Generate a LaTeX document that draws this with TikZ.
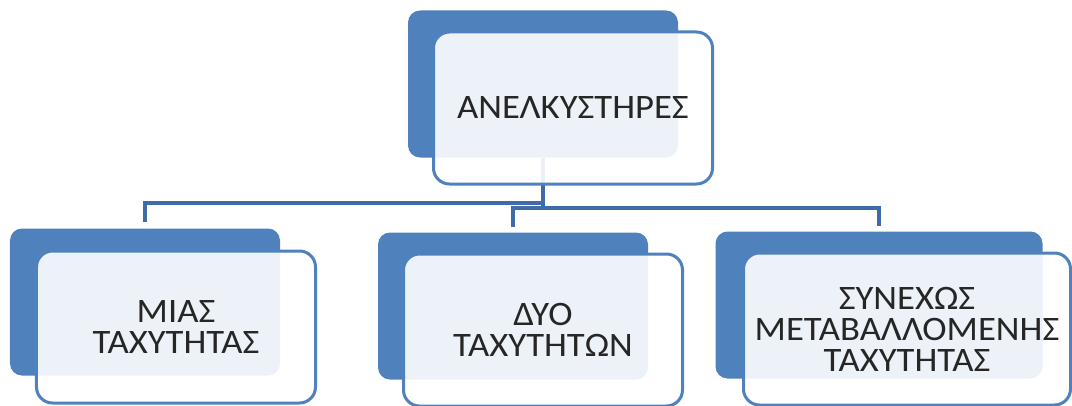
\documentclass[tikz,border=0pt]{standalone}
\usepackage{fontspec}
\setmainfont{Carlito}[FakeStretch=1.07]
\usepackage{tikz}
\usetikzlibrary{positioning}
\definecolor{boxblue}{HTML}{4F81BD}
\definecolor{linkblue}{HTML}{3E6CA8}
\tikzset{
  back/.style = {
    rectangle,
    rounded corners = 2.4mm,
    fill = boxblue,
    inner sep = 0pt,
    minimum width = 54mm,
    minimum height = 29.4mm
  }
  ,
  wide/.style = {
    minimum width = 65.4mm
  }
  , % the light boxes with the texts
  front/.style = {
    rectangle,
    rounded corners = 3.2mm,
    draw = boxblue,
    line width = 0.6mm,
    fill = white,
    fill opacity = 0.9,
    text opacity = 1,
    text = black!85,
    align = center,
    inner sep = 0pt,
    font = \fontsize{19.5}{17.6}\selectfont,
    minimum width = 55.8mm,
    minimum height = 30.4mm
  }
  , % lines between the boxes
  link/.style = {
    draw = linkblue,
    line width = 0.8mm
  }
}
\begin{document}
\begin{tikzpicture}[x = 0.2mm, y = -0.2mm]
\useasboundingbox (0,0) rectangle (1072,406);
% back boxes
\node[back] (anel-back) at (543,84) {};
\node[back] (mias-back) at (145,302) {};
\node[back] (dyo-back) at (513,306) {};
\node[back, wide] (synexos-back) at (879,305) {};

% links
\coordinate (split-l) at (anel-back.south |- 0,203);
\coordinate (split-r) at (anel-back.south |- 0,208);
\draw[link] (anel-back.south) -- (split-r);
\draw[link, shorten >= 1.2mm] (split-l) -| (mias-back.north);
\draw[link, shorten >= 1mm] (split-r) -| (dyo-back.north);
\draw[link, shorten >= 1mm] (split-r) -| (synexos-back.north);

% front boxes
\node[front] (anel) at ([shift={(30,24)}]anel-back) {ΑΝΕΛΚΥΣΤΗΡΕΣ};
\node[front] (mias) at ([shift={(31,25)}]mias-back) {ΜΙΑΣ\\ΤΑΧΥΤΗΤΑΣ};
\node[front] (dyo) at ([shift={(30,24)}]dyo-back) {ΔΥΟ\\ΤΑΧΥΤΗΤΩΝ};
\node[front, wide] (synexos) at ([shift={(28,24)}]synexos-back) {ΣΥΝΕΧΩΣ\\ΜΕΤΑΒΑΛΛΟΜΕΝΗΣ\\ΤΑΧΥΤΗΤΑΣ};
\end{tikzpicture}
\end{document}
